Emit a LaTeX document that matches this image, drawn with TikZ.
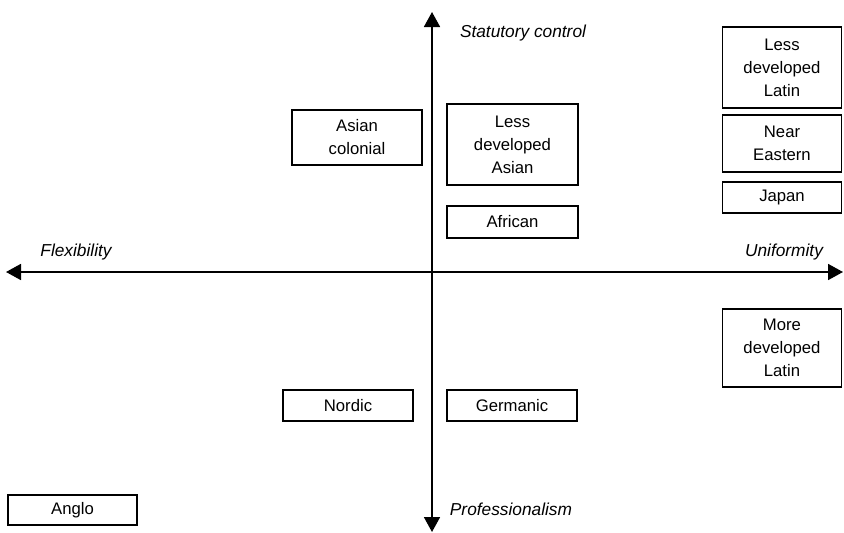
\documentclass[tikz,border=0pt]{standalone}
\usepackage{fontspec}
\setmainfont{Liberation Sans}
\usetikzlibrary{arrows.meta}
\begin{document}
\begin{tikzpicture}[x=1pt,y=-1pt,
  cat/.style={draw, line width=1.6pt, inner sep=0pt, align=center, font=\fontsize{16.7}{23}\selectfont},
  axislabel/.style={font=\fontsize{17.3}{20}\selectfont\itshape, inner sep=0pt},
  axis/.style={line width=1.8pt, {Triangle[length=15pt,width=16pt]}-{Triangle[length=15pt,width=16pt]}}]
\useasboundingbox (0,0) rectangle (844,533);
% axes
\coordinate (top) at (432,12);
\coordinate (bottom) at (432,532);
\coordinate (left) at (6,272);
\coordinate (right) at (843,272);
\draw[axis] (left) -- (right);
\draw[axis] (bottom) -- (top);
% axis labels
\node[axislabel] (stat) at (523,33) {Statutory control};
\node[axislabel] (flex) at (76,252) {Flexibility};
\node[axislabel] (unif) at (784,252) {Uniformity};
\node[axislabel] (prof) at (511,509) {Professionalism};
% categories
\node[cat, minimum width=130pt, minimum height=55pt] (asiancol) at (357,137.5) {Asian\\colonial};
\node[cat, minimum width=131pt, minimum height=81pt] (lda) at (512.5,144.5) {Less\\developed\\Asian};
\node[cat, minimum width=131pt, minimum height=32pt] (african) at (512.5,222) {African};
\node[cat, minimum width=119pt, minimum height=81pt] (ldl) at (782,67.5) {Less\\developed\\Latin};
\node[cat, minimum width=119pt, minimum height=57pt] (neareast) at (782,143.5) {Near\\Eastern};
\node[cat, minimum width=119pt, minimum height=31pt] (japan) at (782,197.5) {Japan};
\node[cat, minimum width=119pt, minimum height=78pt] (mdl) at (782,348) {More\\developed\\Latin};
\node[cat, minimum width=130pt, minimum height=31pt] (nordic) at (348,405.5) {Nordic};
\node[cat, minimum width=130pt, minimum height=31pt] (germanic) at (512,405.5) {Germanic};
\node[cat, minimum width=129pt, minimum height=30pt] (anglo) at (72.5,510) {Anglo};
\end{tikzpicture}
\end{document}
